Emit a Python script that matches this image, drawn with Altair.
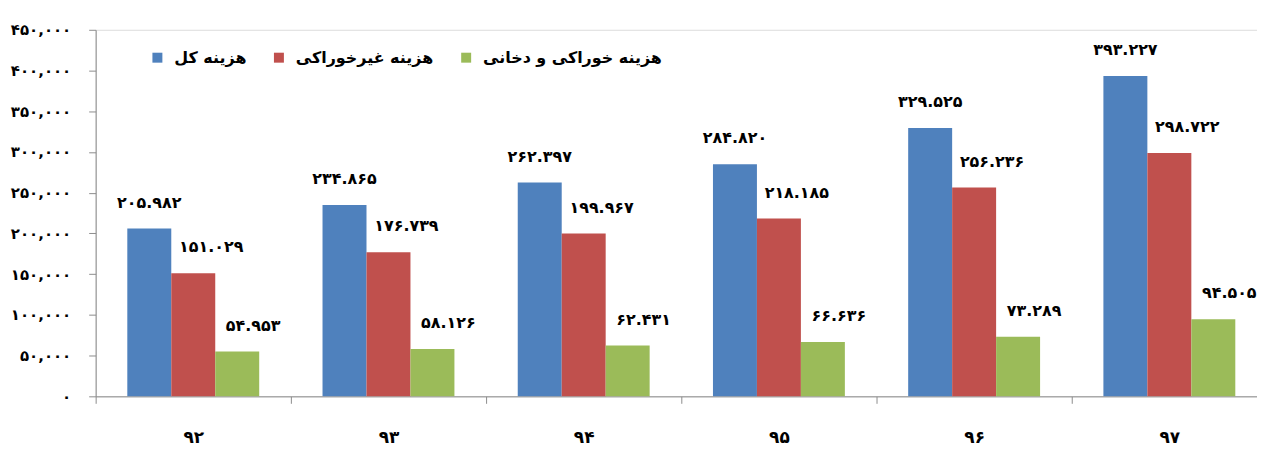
import altair as alt
import pandas as pd

# ---- data ----
categories = ["۹۲", "۹۳", "۹۴", "۹۵", "۹۶", "۹۷"]
series_names = ["هزینه کل", "هزینه غیرخوراکی", "هزینه خوراکی و دخانی"]
total_cost = [205982, 234865, 262397, 284820, 329525, 393227]
nonfood_cost = [151029, 176739, 199967, 218185, 256236, 298722]
food_cost = [54953, 58126, 62431, 66636, 73289, 94505]
y_tick_values = [0, 50000, 100000, 150000, 200000, 250000, 300000, 350000, 400000, 450000]
y_tick_labels = ["٠", "۵۰,۰۰۰", "۱۰۰,۰۰۰", "۱۵۰,۰۰۰", "۲۰۰,۰۰۰", "۲۵۰,۰۰۰",
                 "۳۰۰,۰۰۰", "۳۵۰,۰۰۰", "۴۰۰,۰۰۰", "۴۵۰,۰۰۰"]
colors = ["#4F81BD", "#C0504D", "#9BBB59"]
label_dx = [0, 18, 16]

PERSIAN = str.maketrans("0123456789", "۰۱۲۳۴۵۶۷۸۹")


def fa(v):
    return f"{v:,}".replace(",", ".").translate(PERSIAN)


rows = []
for s_idx, (name, vals) in enumerate(zip(series_names, [total_cost, nonfood_cost, food_cost])):
    for cat, v in zip(categories, vals):
        rows.append({"cat": cat, "series": name, "value": v, "label": fa(v), "s": s_idx})
df = pd.DataFrame(rows)

FONT = "DejaVu Sans"

label_list = "[" + ",".join(f"'{t}'" for t in y_tick_labels) + "]"

base = alt.Chart(df)

x_scale = alt.Scale(paddingInner=0, paddingOuter=0, range=[0, 1176])

x_enc = alt.X("cat:N", sort=categories, title=None, scale=x_scale,
              axis=alt.Axis(labelAngle=0, tickBand="extent", domainColor="#8c8c8c",
                            tickColor="#8c8c8c", tickSize=7, labelPadding=26,
                            labelFont=FONT, labelFontSize=17, labelFontWeight="bold",
                            labelColor="#000000", grid=False))
xoff_enc = alt.XOffset("series:N", sort=series_names,
                       scale=alt.Scale(paddingInner=0, paddingOuter=0.72))
y_enc = alt.Y("value:Q", title=None,
              scale=alt.Scale(domain=[0, 450000], nice=False),
              axis=alt.Axis(values=y_tick_values, grid=False, domainColor="#8c8c8c",
                            tickColor="#8c8c8c", tickSize=7, labelPadding=18,
                            labelFont=FONT, labelFontSize=15, labelFontWeight="bold",
                            labelColor="#000000",
                            labelExpr=f"{label_list}[round(datum.value/50000)]"))

bars = base.mark_bar().encode(
    x=x_enc,
    xOffset=xoff_enc,
    y=y_enc,
    color=alt.Color("series:N", sort=series_names,
                    scale=alt.Scale(domain=series_names, range=colors),
                    legend=alt.Legend(title=None, orient="none", legendX=54, legendY=20,
                                      direction="horizontal", symbolType="square",
                                      symbolSize=100, symbolStrokeWidth=0,
                                      labelFont=FONT, labelFontSize=16, labelLimit=400,
                                      labelFontWeight="bold", labelColor="#000000",
                                      columnPadding=24, labelOffset=9)),
)

texts = []
for i, name in enumerate(series_names):
    texts.append(
        base.transform_filter(alt.datum.s == i)
        .mark_text(font=FONT, fontSize=16, fontWeight="bold", baseline="middle",
                   dy=-26, dx=label_dx[i], color="#000000")
        .encode(x=alt.X("cat:N", sort=categories),
                xOffset=alt.XOffset("series:N", sort=series_names),
                y=alt.Y("value:Q"),
                text="label:N")
    )

chart = alt.layer(bars, *texts).properties(
    width=1166, height=368,
    autosize=alt.AutoSizeParams(type="none"),
    padding={"left": 88, "top": 21, "right": 0, "bottom": 52},
).configure_view(stroke=None).configure(background="#ffffff")

chart.save("out.html", embed_options={"renderer": "svg", "actions": False})
